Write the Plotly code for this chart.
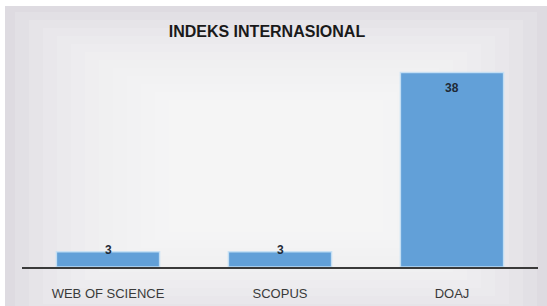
import plotly.graph_objects as go

categories = ["WEB OF SCIENCE", "SCOPUS", "DOAJ"]
values = [3, 3, 38]
title_text = "INDEKS INTERNASIONAL"

W, H = 547, 306
ml, mr, mt, mb = 22, 9, 52, 39

fig = go.Figure()
fig.add_trace(go.Bar(
    x=categories, y=values, width=0.6,
    marker=dict(color="#62A0D8", line=dict(color="rgba(200,225,245,0.9)", width=1.5)),
    hoverinfo="skip",
))

for c, v in zip(categories, values):
    big = v > 10
    fig.add_annotation(
        x=c, y=v, text=f"<b>{v}</b>", showarrow=False,
        yanchor="middle", yshift=-16 if big else 2,
        font=dict(family="Liberation Sans", size=12, color="#1f2a36"),
    )

pw = W - ml - mr
ph = H - mt - mb


def px_rect(x0, y0, x1, y1, color):
    fig.add_shape(
        type="rect", xref="paper", yref="paper", layer="below",
        x0=(x0 - ml) / pw, x1=(x1 - ml) / pw,
        y0=((H - mb) - y1) / ph, y1=((H - mb) - y0) / ph,
        fillcolor=color, line=dict(width=0),
    )


# background panel with a soft radial-like lightening toward the centre
px_rect(5, 6, W, H, "#DEDBE1")
steps = 14
for i in range(steps):
    dx = 10 + i * 14
    dy = 6 + i * 8
    px_rect(5 + dx, 6 + dy, W - dx, H - dy + 20, "rgba(250,250,250,0.17)")

fig.update_layout(
    width=W, height=H,
    margin=dict(l=ml, r=mr, t=mt, b=mb, autoexpand=False),
    paper_bgcolor="white",
    plot_bgcolor="rgba(0,0,0,0)",
    showlegend=False,
    bargap=0.4,
    title=dict(
        text=f"<b>{title_text}</b>", x=0.488, xanchor="center", y=1 - 31 / H, yanchor="middle",
        font=dict(family="Liberation Sans", size=16, color="#1a1a1a"),
    ),
    xaxis=dict(
        showline=True, linecolor="#3a3a3a", linewidth=1.5,
        ticks="outside", ticklen=14, tickcolor="rgba(0,0,0,0)",
        tickfont=dict(family="Liberation Sans", size=13, color="#3a3a3a"),
        showgrid=False, fixedrange=True, automargin=False,
    ),
    yaxis=dict(
        range=[0, 42], visible=False, showgrid=False, fixedrange=True, automargin=False,
    ),
)

fig.write_html(
    "out.html",
    config={"displayModeBar": False, "staticPlot": True},
    post_script="document.body.style.margin='0';document.body.style.overflow='hidden';",
)
